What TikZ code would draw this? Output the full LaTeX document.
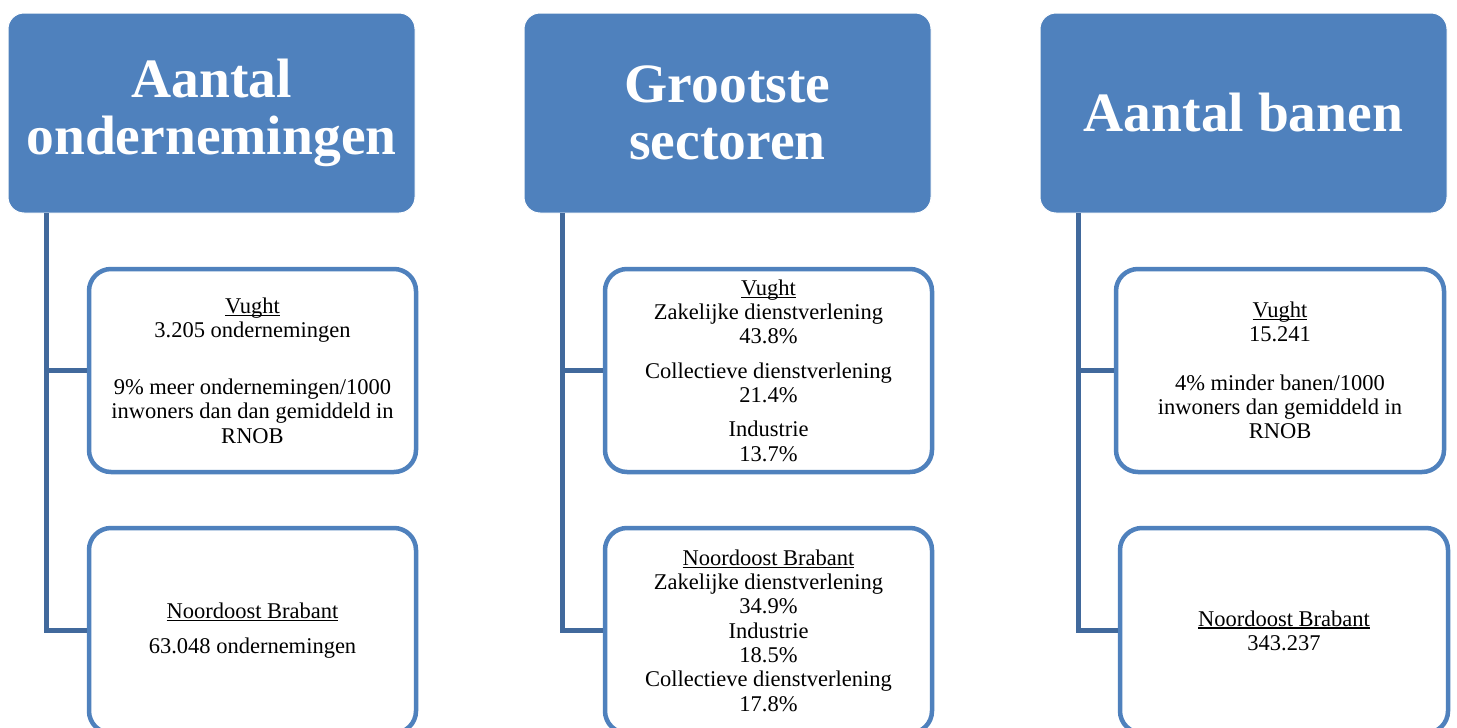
\documentclass[tikz,border=0pt]{standalone}
\usepackage{fontspec}
\setmainfont{Liberation Serif}
\definecolor{hblue}{HTML}{4F81BD}
\definecolor{cblue}{HTML}{41699C}
\newcommand\myul[1]{\setbox0\hbox{#1}\rlap{\rule[-2.5pt]{\wd0}{1.1pt}}\box0}
\tikzset{
  x=1pt, y=-1pt,
  header/.style={rectangle, rounded corners=16pt, fill=hblue, draw=white, line width=1pt,
    minimum width=407pt, minimum height=200pt, inner sep=0pt, text=white, align=center,
    font=\fontsize{55.5}{57}\selectfont\bfseries},
  childbox/.style={rectangle, rounded corners=22pt, fill=white, draw=hblue, line width=4.5pt,
    minimum width=327pt, inner sep=0pt, align=center, text=black,
    font=\fontsize{22.5}{24.3}\selectfont},
  conn/.style={draw=cblue, line width=5pt}
}
\begin{document}
\begin{tikzpicture}
\useasboundingbox (0,0) rectangle (1457,728);
\fill[white] (0,0) rectangle (1457,728);

% headers
\node[header] (h1) at (211.5,113) {Aantal\\ondernemingen};
\node[header] (h2) at (727.5,113) {Grootste\\sectoren};
\node[header] (h3) at (1243.5,113) {Aantal banen};

% connector anchors
\coordinate (c1) at (46,213);
\coordinate (c2) at (562,213);
\coordinate (c3) at (1078,213);

% column 1
\node[childbox, minimum height=203pt] (v1) at (252.5,370.5)
  {\myul{Vught}\\3.205 ondernemingen\\[32.5pt]9\% meer ondernemingen/1000\\inwoners dan dan gemiddeld in\\RNOB};
\node[childbox, minimum height=205pt] (n1) at (252.5,630.5)
  {\myul{Noordoost Brabant}\\[10pt]63.048 ondernemingen};

% column 2
\node[childbox, minimum height=203pt] (v2) at (768.5,370.5)
  {\myul{Vught}\\Zakelijke dienstverlening\\43.8\%\\[10pt]Collectieve dienstverlening\\21.4\%\\[10pt]Industrie\\13.7\%};
\node[childbox, minimum height=205pt] (n2) at (768.5,630.5)
  {\myul{Noordoost Brabant}\\Zakelijke dienstverlening\\34.9\%\\Industrie\\18.5\%\\Collectieve dienstverlening\\17.8\%};

% column 3
\node[childbox, minimum height=203pt, minimum width=328pt] (v3) at (1280,370.5)
  {\myul{Vught}\\15.241\\[24.3pt]4\% minder banen/1000\\inwoners dan gemiddeld in\\RNOB};
\node[childbox, minimum height=205pt, minimum width=328pt] (n3) at (1284,630.5)
  {\myul{Noordoost Brabant}\\343.237};

% connectors
\draw[conn] (c1) |- (v1.west);
\draw[conn] (c1) |- (n1.west);
\draw[conn] (c2) |- (v2.west);
\draw[conn] (c2) |- (n2.west);
\draw[conn] (c3) |- (v3.west);
\draw[conn] (c3) |- (n3.west);
\end{tikzpicture}
\end{document}
